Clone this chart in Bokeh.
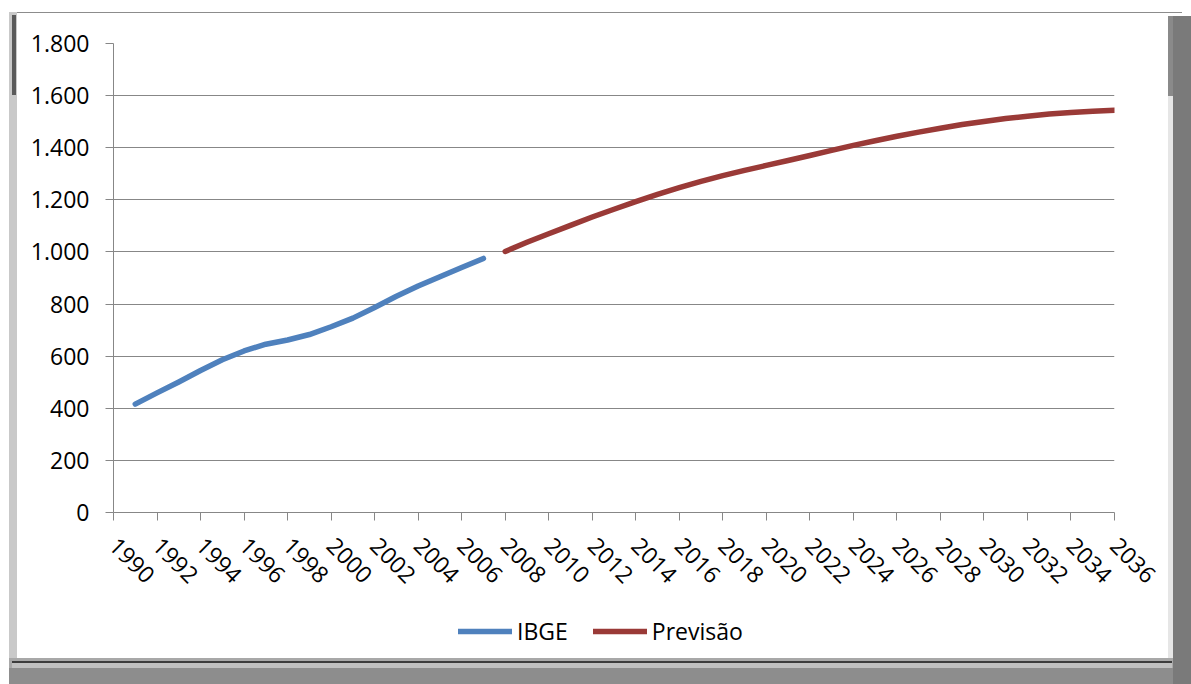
import math

from bokeh.embed import file_html
from bokeh.layouts import column
from bokeh.models import FixedTicker, Legend, LegendItem, Range1d
from bokeh.plotting import figure
from bokeh.resources import INLINE

# Observed series (IBGE) and projection (Previsão), one value per year
ibge_years = list(range(1991, 2008))
ibge_values = [416, 459, 501, 545, 586, 620, 646, 662, 683, 713,
               746, 787, 830, 869, 905, 940, 975]

prev_years = list(range(2008, 2037))
prev_values = [1002, 1037, 1070, 1102, 1134, 1164, 1193, 1221, 1247, 1271,
               1293, 1313, 1332, 1351, 1370, 1390, 1409, 1427, 1444, 1460,
               1475, 1489, 1501, 1512, 1521, 1529, 1535, 1540, 1544]

series_names = ["IBGE", "Previsão"]
series_colors = ["#4F81BD", "#9A3A37"]

x_ticks = list(range(1990, 2037, 2))
y_ticks = [0, 200, 400, 600, 800, 1000, 1200, 1400, 1600, 1800]
y_tick_labels = ["0", "200", "400", "600", "800", "1.000", "1.200",
                 "1.400", "1.600", "1.800"]

FONT = "Open Sans"
GRID = "#878787"
LINE_W = 5.5


def band(color, left, top, w, h):
    """One solid CSS background layer placed at a pixel box."""
    return f"linear-gradient({color},{color}) {left}px {top}px / {w}px {h}px no-repeat"


# Card with a bevelled grey edge, painted behind the transparent canvases
card_background = ", ".join([
    band("#ffffff", 17, 13, 1151, 645),
    band("#f2f2f2", 17, 655, 1151, 3),
    band("#5a5a5a", 12, 15, 4, 80),
    band("#c9c9c9", 9, 12, 8, 646),
    band("#8c8c8c", 9, 12, 1173, 1),
    band("#e6e6e6", 1168, 96, 5, 562),
    band("#7a7a7a", 1173, 16, 18, 668),
    band("#8a8a8a", 1168, 16, 5, 80),
    band("#3c3c3c", 12, 661, 1160, 2),
    band("#c0c0c0", 12, 663, 1160, 5),
    band("#8d8d8d", 9, 668, 1182, 16),
    band("#a8a8a8", 9, 658, 1182, 26),
]) + ", #ffffff"

# ---- main chart -------------------------------------------------------
p = figure(
    width=1191, height=600,
    x_range=Range1d(1990, 2036), y_range=Range1d(0, 1800),
    output_backend="svg", toolbar_location=None,
    min_border_left=113, min_border_right=77,
    min_border_top=43, min_border_bottom=88,
)
p.outline_line_color = None
p.background_fill_color = "white"
p.border_fill_alpha = 0

# x axis: one tick every two years, labels turned 45 degrees
p.xaxis.ticker = FixedTicker(ticks=x_ticks)
p.xaxis.major_label_orientation = -math.pi / 4
p.xaxis.minor_tick_line_color = None
p.xaxis.major_tick_out = 8
p.xaxis.major_tick_in = 0
p.xaxis.axis_line_color = GRID
p.xaxis.major_tick_line_color = GRID
p.xaxis.major_label_text_font = FONT
p.xaxis.major_label_text_font_size = "23px"
p.xaxis.major_label_text_color = "#000000"
p.xaxis.major_label_standoff = 21
p.xgrid.grid_line_color = None

# y axis with dotted thousands separator
p.yaxis.ticker = FixedTicker(ticks=y_ticks)
p.yaxis.major_label_overrides = dict(zip(y_ticks, y_tick_labels))
p.yaxis.minor_tick_line_color = None
p.yaxis.major_tick_out = 8
p.yaxis.major_tick_in = 0
p.yaxis.axis_line_color = GRID
p.yaxis.major_tick_line_color = GRID
p.yaxis.major_label_text_font = FONT
p.yaxis.major_label_text_font_size = "23px"
p.yaxis.major_label_text_color = "#000000"
p.yaxis.major_label_standoff = 16
p.ygrid.grid_line_color = GRID
p.ygrid.grid_line_width = 1

p.line(ibge_years, ibge_values, line_color=series_colors[0],
       line_width=LINE_W, line_cap="round", line_join="round")
p.line(prev_years, prev_values, line_color=series_colors[1],
       line_width=LINE_W, line_cap="round", line_join="round")

# ---- legend strip under the chart ---------------------------------------
# (its frame is aligned with the chart frame by the column layout)
lg = figure(
    width=1191, height=84,
    x_range=Range1d(0, 1), y_range=Range1d(0, 1),
    output_backend="svg", toolbar_location=None,
    x_axis_type=None, y_axis_type=None,
    min_border=0,
)
lg.grid.visible = False
lg.outline_line_color = None
lg.background_fill_alpha = 0
lg.border_fill_alpha = 0

# key-only renderers: a single undefined point each, so nothing is plotted
key_renderers = [
    lg.line([math.nan], [math.nan], line_color=c, line_width=LINE_W,
            line_cap="round")
    for c in series_colors
]
legend = Legend(
    items=[LegendItem(label=n, renderers=[r])
           for n, r in zip(series_names, key_renderers)],
    orientation="horizontal", location=(345, 37),
    label_text_font=FONT, label_text_font_size="23px",
    label_text_color="#000000",
    glyph_width=54, glyph_height=20, label_standoff=5, spacing=25,
    border_line_color=None, background_fill_alpha=0,
    margin=0, padding=0,
)
lg.add_layout(legend)

layout = column(p, lg, spacing=0, styles={"background": card_background})

open("out.html", "w").write(file_html(layout, INLINE))
